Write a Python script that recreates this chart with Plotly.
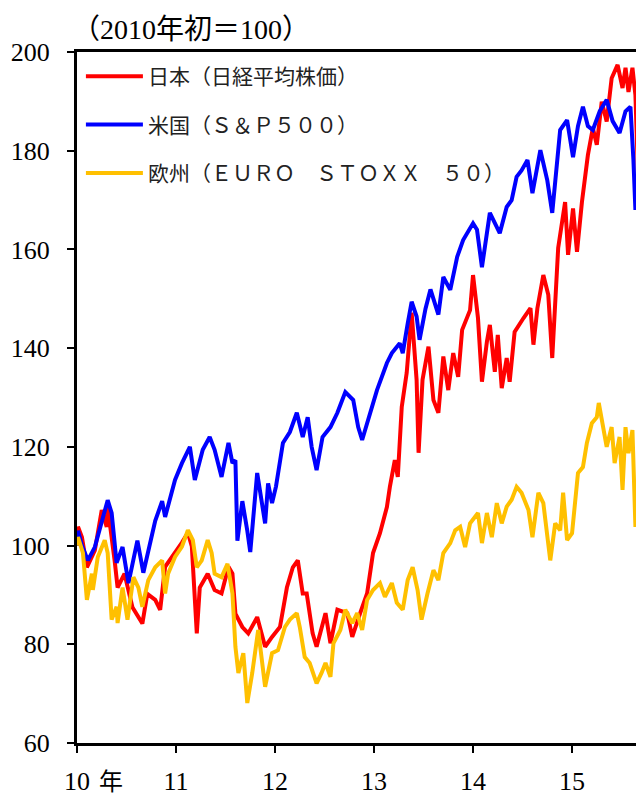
import plotly.graph_objects as go

# ---- data (decimal year, index 2010 start = 100) ----
years_tick = [2010, 2011, 2012, 2013, 2014, 2015]
year_labels = ["10", "11", "12", "13", "14", "15"]

jp_t = [
    2010.00, 2010.01, 2010.05, 2010.10, 2010.18,
    2010.25, 2010.30, 2010.31, 2010.38, 2010.41,
    2010.48, 2010.56, 2010.66, 2010.71, 2010.79,
    2010.84, 2010.89, 2010.99, 2011.06, 2011.12,
    2011.16, 2011.21, 2011.24, 2011.32, 2011.39,
    2011.46, 2011.53, 2011.57, 2011.60, 2011.67,
    2011.73, 2011.82, 2011.90, 2011.97, 2012.05,
    2012.12, 2012.18, 2012.23, 2012.28, 2012.32,
    2012.38, 2012.42, 2012.51, 2012.56, 2012.63,
    2012.73, 2012.78, 2012.86, 2012.93, 2012.99,
    2013.06, 2013.13, 2013.16, 2013.21, 2013.24,
    2013.28, 2013.33, 2013.38, 2013.43, 2013.45,
    2013.49, 2013.55, 2013.60, 2013.65, 2013.70,
    2013.75, 2013.80, 2013.85, 2013.89, 2013.97,
    2014.00, 2014.05, 2014.09, 2014.14, 2014.17,
    2014.22, 2014.25, 2014.29, 2014.34, 2014.37,
    2014.42, 2014.51, 2014.58, 2014.61, 2014.65,
    2014.71, 2014.76, 2014.80, 2014.83, 2014.86,
    2014.93, 2014.96, 2015.01, 2015.05, 2015.10,
    2015.16, 2015.21, 2015.25, 2015.30, 2015.35,
    2015.40, 2015.46, 2015.51, 2015.54, 2015.57,
    2015.61, 2015.64, 2015.66, 2015.67, 2015.70,
    2015.73,
]
jp_v = [
    100, 103.8, 101.7, 95.6, 99,
    107.2, 103.8, 107.8, 97, 91.5,
    94.3, 87.5, 84.2, 90.2, 89,
    87, 95.7, 98.5, 100.6, 102.6,
    99.8, 82.2, 91.5, 94.3, 91,
    90.3, 95.7, 94.3, 86.2, 83.5,
    82.2, 85.5, 79.5, 81.5, 83.5,
    91.5, 95.6, 97, 90.3, 90.3,
    82.2, 79.5, 86.3, 80.2, 87,
    86.3, 81.5, 86.3, 90.3, 98.5,
    102.5, 107.8, 111.9, 117.3, 113.9,
    128.1, 135, 147.2, 133.6, 118.8,
    133.6, 140.3, 129.5, 126.9, 138.3,
    131.5, 139, 134.2, 143.7, 147.7,
    154.8, 146.1, 133.2, 141.3, 144.7,
    135.2, 142.7, 131.9, 138, 133.2,
    143.3, 146.1, 148.1, 140.7, 148.1,
    154.8, 150.8, 138, 149.3, 160.3,
    169.6, 158.9, 168.3, 159.5, 169.6,
    179.1, 184.6, 181.2, 189.9, 185.9,
    194.7, 197.4, 192.7, 196.8, 191.9,
    196.8, 191.3, 179.1, 165.5, 171,
    176,
]

us_t = [
    2010.00, 2010.01, 2010.05, 2010.11, 2010.18,
    2010.25, 2010.31, 2010.35, 2010.40, 2010.46,
    2010.52, 2010.61, 2010.67, 2010.79, 2010.86,
    2010.89, 2010.99, 2011.06, 2011.14, 2011.19,
    2011.27, 2011.34, 2011.39, 2011.46, 2011.53,
    2011.57, 2011.60, 2011.62, 2011.67, 2011.72,
    2011.75, 2011.82, 2011.90, 2011.93, 2011.97,
    2012.01, 2012.08, 2012.15, 2012.22, 2012.28,
    2012.33, 2012.37, 2012.42, 2012.48, 2012.56,
    2012.63, 2012.71, 2012.79, 2012.84, 2012.88,
    2012.96, 2013.03, 2013.13, 2013.18, 2013.26,
    2013.29, 2013.34, 2013.38, 2013.43, 2013.46,
    2013.52, 2013.57, 2013.65, 2013.70, 2013.77,
    2013.84, 2013.90, 2014.00, 2014.04, 2014.09,
    2014.17, 2014.27, 2014.34, 2014.39, 2014.44,
    2014.49, 2014.55, 2014.60, 2014.68, 2014.75,
    2014.80, 2014.88, 2014.95, 2015.01, 2015.06,
    2015.11, 2015.16, 2015.21, 2015.28, 2015.35,
    2015.41, 2015.48, 2015.54, 2015.59, 2015.62,
    2015.64, 2015.67, 2015.69, 2015.73,
]
us_v = [
    100, 103, 100, 97, 99.7,
    105, 109.2, 106.6, 96.5, 99.7,
    92.4, 101, 94.5, 105, 109,
    105.8, 113.3, 116.7, 120, 113.3,
    119.4, 122, 119.4, 113.9, 120.8,
    116.7, 117.3, 101, 109, 103,
    98.7, 114.7, 104.5, 112.6, 108.6,
    112, 120.8, 123, 126.9, 122,
    126, 120, 115.3, 122, 124,
    126.9, 131.1, 129.5, 124, 121.4,
    126.9, 131.5, 137, 139, 141,
    139, 145, 149.4, 146.4, 141.7,
    148, 151.9, 146.8, 154.4, 151.8,
    158.5, 161.9, 165.3, 164, 156.4,
    167.4, 163.3, 168.6, 170, 174.7,
    176, 178.1, 171.4, 180.1, 174,
    167.4, 184.2, 186.2, 178.7, 185,
    188.9, 185, 184.2, 188, 190.3,
    186, 183.6, 188, 188.9, 178.1,
    168, 174, 178.1, 175,
]

eu_t = [
    2010.00, 2010.01, 2010.06, 2010.10, 2010.15,
    2010.16, 2010.21, 2010.28, 2010.31, 2010.35,
    2010.40, 2010.41, 2010.46, 2010.51, 2010.57,
    2010.62, 2010.66, 2010.72, 2010.79, 2010.86,
    2010.89, 2010.92, 2010.99, 2011.06, 2011.12,
    2011.17, 2011.21, 2011.26, 2011.32, 2011.36,
    2011.39, 2011.46, 2011.52, 2011.57, 2011.60,
    2011.63, 2011.68, 2011.72, 2011.77, 2011.83,
    2011.90, 2011.97, 2012.03, 2012.10, 2012.15,
    2012.22, 2012.25, 2012.30, 2012.35, 2012.42,
    2012.47, 2012.51, 2012.56, 2012.59, 2012.66,
    2012.71, 2012.78, 2012.83, 2012.88, 2012.93,
    2012.99, 2013.06, 2013.11, 2013.18, 2013.23,
    2013.29, 2013.34, 2013.39, 2013.44, 2013.48,
    2013.54, 2013.60, 2013.65, 2013.70, 2013.77,
    2013.82, 2013.87, 2013.92, 2013.97, 2014.00,
    2014.05, 2014.09, 2014.14, 2014.19, 2014.24,
    2014.29, 2014.34, 2014.39, 2014.44, 2014.49,
    2014.56, 2014.60, 2014.66, 2014.71, 2014.78,
    2014.83, 2014.88, 2014.91, 2014.95, 2015.00,
    2015.03, 2015.06, 2015.11, 2015.15, 2015.20,
    2015.25, 2015.27, 2015.31, 2015.35, 2015.40,
    2015.43, 2015.48, 2015.51, 2015.54, 2015.57,
    2015.61, 2015.64, 2015.67, 2015.71, 2015.73,
]
eu_v = [
    100, 101.7, 98.5, 89, 94.3,
    91, 97.7, 101.1, 98.5, 85,
    87.6, 84.3, 91.5, 85, 93.6,
    91.5, 87.6, 93, 95.6, 97,
    90.3, 94.3, 97.7, 99.8, 103.1,
    101.1, 95.6, 97, 101.1, 98.5,
    94.3, 93.6, 96.3, 90.3, 79.5,
    74.2, 78.2, 68.1, 74.2, 82.9,
    71.4, 78.2, 78.8, 83.5, 85,
    86.3, 83.5, 77.4, 76.2, 72.1,
    74.2, 76.2, 73.4, 80.2, 82.9,
    87, 84.3, 86.3, 82.9, 89,
    91, 92.4, 89.6, 92.4, 88.4,
    87, 93, 95.6, 91, 85,
    90.3, 95, 93, 98.5, 100.5,
    103.1, 103.8, 99.7, 104.5, 105.2,
    106.6, 100.5, 106.6, 101.7, 108.6,
    104.5, 107.9, 109.3, 111.9, 110.7,
    107.2, 101.7, 110.7, 108.6, 97,
    104.5, 103.1, 110.7, 101.1, 102.5,
    108.6, 114.7, 115.9, 120.8, 124.8,
    126, 128.9, 124.8, 120, 124,
    116.7, 122, 111.3, 124, 118.7,
    123.4, 103.8, 110.7, 103.8, 107.9,
]

series_names = [
    "日本（日経平均株価）",
    "米国（Ｓ＆Ｐ５００）",
    "欧州（ＥＵＲＯ　ＳＴＯＸＸ　５０）",
]
series_colors = ["#FF0000", "#0000FF", "#FFC000"]

fig = go.Figure()
for i, (t, v) in enumerate([(jp_t, jp_v), (us_t, us_v), (eu_t, eu_v)]):
    fig.add_trace(go.Scatter(
        x=t, y=v, mode="lines", name=series_names[i],
        legendgroup=f"g{i}",
        line=dict(color=series_colors[i], width=4),
    ))

serif = "Liberation Serif, DejaVu Serif, Noto Sans CJK JP, serif"

# page body adds an 8px offset; keep the canvas inside the window (no scrolling)
fig.update_layout(
    width=628, height=789,
    margin=dict(l=69, r=0, t=44, b=54),
    paper_bgcolor="white", plot_bgcolor="white",
    showlegend=True,
    legend=dict(
        x=0.007, y=0.994, xanchor="left", yanchor="top",
        font=dict(family="Noto Sans CJK JP", size=21, color="#222"),
        bgcolor="rgba(0,0,0,0)", itemwidth=57,
        tracegroupgap=18,
    ),
    xaxis=dict(
        range=[2010, 2015.646], tickvals=years_tick, ticktext=year_labels,
        showgrid=False, zeroline=False, showline=True, linecolor="black",
        linewidth=3, mirror=True, ticks="outside", ticklen=7, tickwidth=2,
        tickcolor="black", ticklabelstandoff=6,
        tickfont=dict(family=serif, size=26, color="black"),
    ),
    yaxis=dict(
        range=[60, 200], dtick=20, tick0=60,
        showgrid=False, zeroline=False, showline=True, linecolor="black",
        linewidth=3, ticks="outside", ticklen=7, tickwidth=2,
        tickcolor="black", ticklabelstandoff=12,
        tickfont=dict(family=serif, size=26, color="black"),
    ),
    annotations=[
        dict(text="（2010年初＝100）", xref="paper", yref="paper",
             x=0, y=1, xanchor="left", yanchor="bottom", yshift=5, xshift=-7,
             showarrow=False, font=dict(family=serif, size=28, color="black")),
        dict(text="年", xref="paper", yref="paper",
             x=0.06, y=0, xanchor="center", yanchor="bottom", yshift=-53,
             borderpad=0, showarrow=False,
             font=dict(family=serif, size=24, color="black")),
    ],
)

fig.write_html("out.html")
